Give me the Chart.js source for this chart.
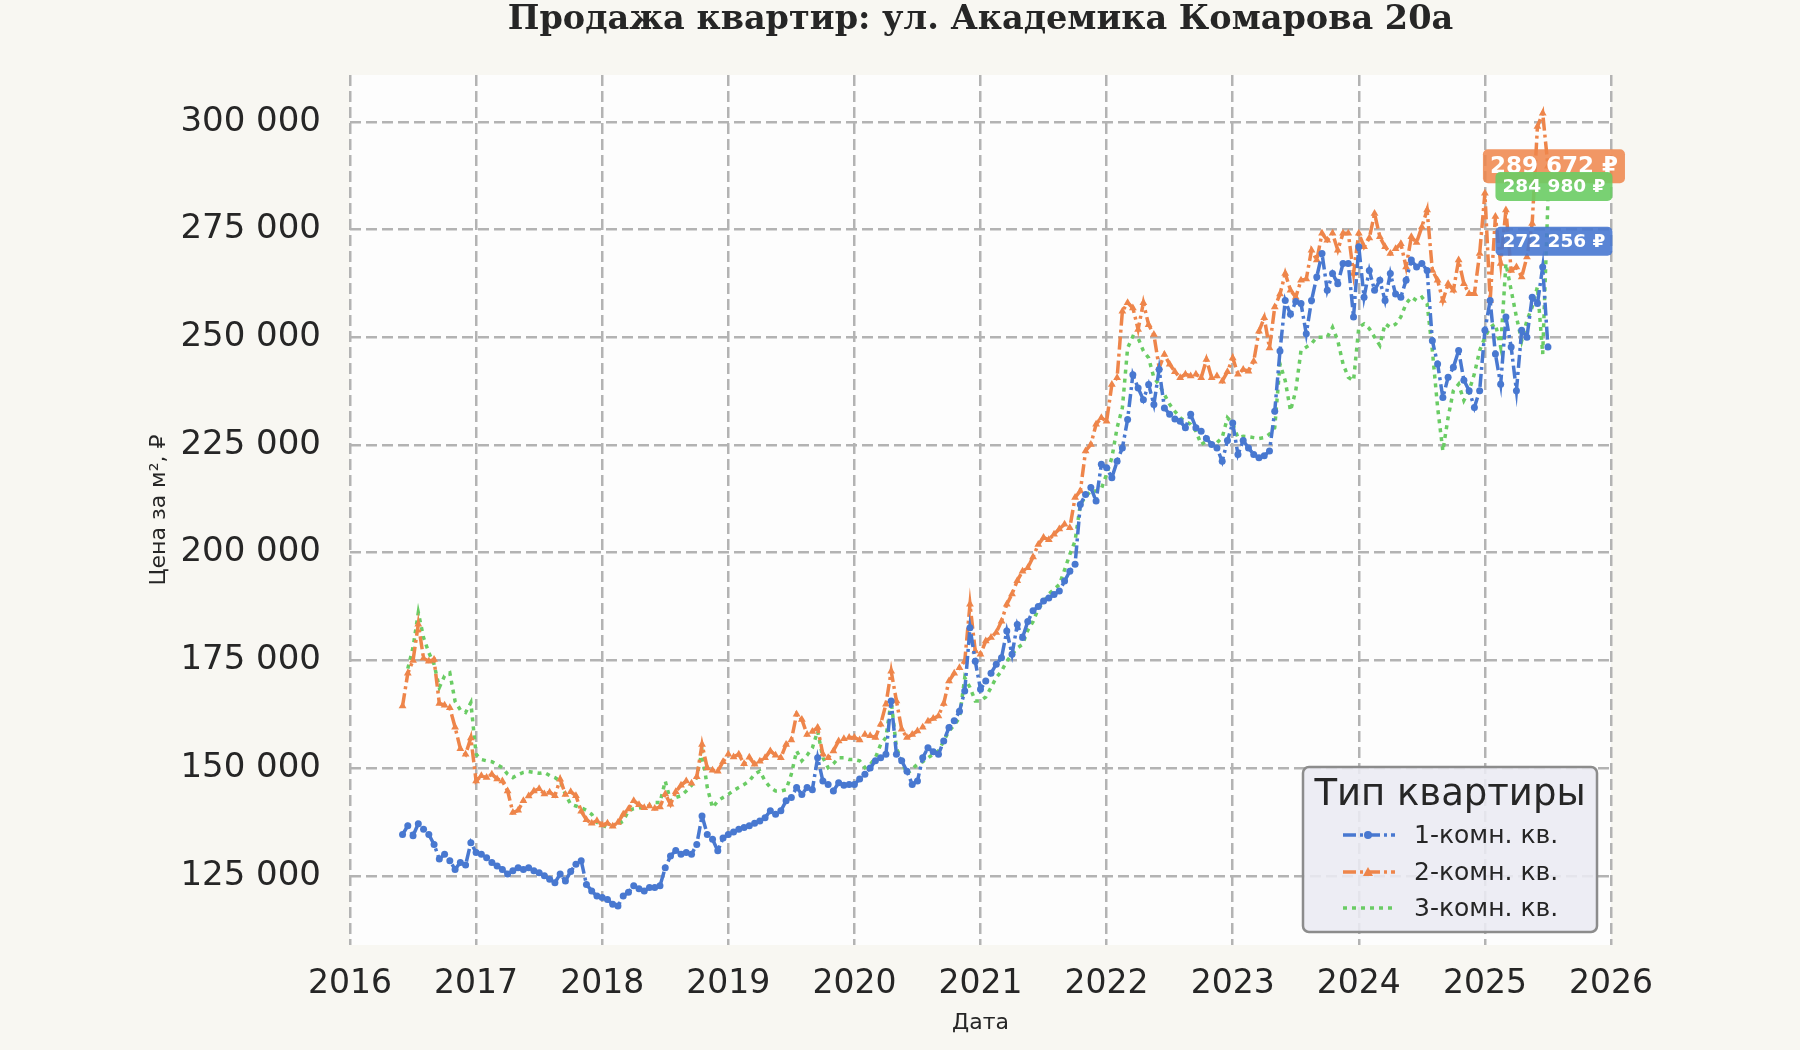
<!DOCTYPE html>
<html lang="ru">
<head>
<meta charset="utf-8">
<title>Продажа квартир: ул. Академика Комарова 20а</title>
<script src="https://cdn.jsdelivr.net/npm/chart.js@4.4.1/dist/chart.umd.min.js"></script>
<style>
  html, body { margin: 0; padding: 0; background: #f8f7f2; }
  #wrap { width: 1800px; height: 1050px; }
</style>
</head>
<body>
<div id="wrap"><canvas id="grafico" width="1800" height="1050"></canvas></div>
<script>
// ---------------- DADOS ----------------
const chartTitle = "Продажа квартир: ул. Академика Комарова 20а";
const xTitle = "Дата";
const yTitle = "Цена за м², ₽";
const legendTitle = "Тип квартиры";
const roomTypes = ["1-комн. кв.", "2-комн. кв.", "3-комн. кв."];
const yearTicks = [2016, 2017, 2018, 2019, 2020, 2021, 2022, 2023, 2024, 2025, 2026];
const priceTicks = [125000, 150000, 175000, 200000, 225000, 250000, 275000, 300000];
const lastPrices = [272256, 289672, 284980];

// half-month points (1st and 15th), from 1 June 2016, price in thousand ₽ per m²
const firstHalfMonth = 2016 * 24 + 10;

const room1 = [
  134.6, 136.6, 134.3, 137.1, 135.8, 134.6, 132.3, 128.9, 130.0, 128.5, 126.5, 128.1, 127.5, 132.7,
  130.4, 130.0, 129.2, 128.1, 127.3, 126.5, 125.4, 126.2, 126.9, 126.5, 126.9, 126.2, 125.7, 125.0, 124.2, 123.4, 125.4, 123.8, 126.0, 127.7, 128.5, 123.0, 121.5, 120.3,
  120.0, 119.5, 118.4, 118.0, 120.3, 121.2, 122.7, 122.0, 121.5, 122.3, 122.3, 122.7, 126.9, 129.6, 130.9, 130.0, 130.4, 130.0, 132.3, 138.9, 134.6, 133.5, 130.8, 133.8,
  134.6, 135.2, 135.8, 136.2, 136.6, 137.2, 137.7, 138.5, 140.1, 139.3, 140.1, 142.4, 143.2, 145.5, 143.9, 145.5, 145.0, 152.4, 147.0, 146.2, 144.7, 146.6, 146.0, 146.2,
  146.2, 147.5, 148.6, 150.0, 151.7, 152.4, 153.2, 165.6, 153.2, 151.7, 149.3, 146.2, 147.0, 152.4, 154.7, 153.8, 153.2, 156.3, 159.4, 161.0, 163.2, 167.9, 182.6, 174.8,
  168.3, 170.2, 172.0, 174.1, 175.6, 181.8, 176.4, 183.3, 180.3, 184.0, 186.5, 187.5, 188.8, 189.5, 190.3, 191.1, 193.4, 195.7, 197.3, 211.2, 213.5, 215.1, 212.0, 220.5,
  219.7, 217.4, 221.2, 224.3, 230.9, 241.3, 238.2, 235.5, 239.0, 234.4, 242.5, 233.6, 232.1, 231.0, 230.5, 229.0, 232.1, 229.0, 228.2, 226.5, 225.1, 224.3, 221.2, 226.0,
  230.1, 222.8, 226.0, 224.3, 222.8, 222.0, 222.5, 223.6, 232.8, 246.8, 258.5, 255.3, 258.3, 257.8, 250.8, 258.5, 264.0, 269.4, 260.9, 264.8, 262.4, 267.1, 267.1, 254.7,
  271.0, 259.3, 265.5, 260.9, 263.2, 258.5, 264.8, 260.0, 259.3, 263.2, 267.9, 266.3, 267.1, 265.5, 249.2, 243.8, 236.0, 240.7, 243.0, 246.9, 240.0, 237.6, 233.7, 237.6,
  251.6, 258.5, 246.1, 239.1, 254.7, 247.7, 237.6, 251.6, 250.0, 259.3, 257.8, 266.3, 247.7
];

const room2 = [
  164.4, 172.0, 175.0, 183.4, 175.5, 174.8, 175.2, 165.0, 164.6, 164.0, 159.5, 154.5, 153.2, 157.0,
  147.0, 148.2, 147.8, 148.6, 147.5, 147.0, 144.7, 139.7, 140.2, 142.4, 143.5, 144.7, 145.2, 144.0, 144.4, 143.6, 147.4, 143.9, 144.5, 143.6, 140.0, 138.0, 137.2, 137.8,
  136.8, 137.2, 136.5, 137.4, 139.3, 140.5, 142.4, 141.5, 140.8, 141.2, 140.6, 141.0, 144.0, 141.6, 144.5, 146.0, 147.0, 146.5, 148.0, 155.5, 150.0, 149.5, 149.3, 151.5,
  153.2, 152.6, 153.2, 151.0, 152.5, 150.9, 151.6, 152.4, 154.0, 153.0, 152.4, 155.5, 156.5, 162.5, 161.3, 157.8, 158.5, 159.4, 153.2, 152.4, 154.0, 156.3, 156.8, 157.1,
  157.1, 156.5, 157.8, 157.5, 157.1, 160.2, 164.8, 172.5, 165.6, 159.0, 157.1, 157.8, 158.6, 159.5, 160.9, 161.5, 162.1, 165.0, 170.2, 172.0, 173.3, 174.8, 188.0, 177.2,
  176.4, 179.5, 180.3, 181.5, 184.1, 188.0, 190.4, 193.5, 195.7, 196.5, 199.0, 201.9, 203.5, 203.0, 204.3, 205.5, 206.6, 205.8, 212.8, 214.3, 223.6, 225.1, 229.8, 231.3,
  230.5, 239.0, 240.6, 256.0, 258.0, 256.8, 251.8, 258.0, 252.9, 250.6, 242.9, 246.0, 243.7, 242.0, 240.6, 241.4, 241.0, 241.4, 240.6, 244.8, 240.6, 241.0, 239.8, 242.0,
  245.2, 241.4, 242.5, 242.1, 244.4, 251.4, 254.5, 247.5, 257.0, 260.0, 264.8, 260.9, 259.3, 263.2, 263.5, 270.2, 267.9, 274.1, 272.5, 274.1, 270.2, 274.1, 274.1, 264.8,
  274.1, 271.0, 273.0, 278.7, 273.3, 271.0, 269.4, 270.5, 271.7, 266.3, 273.3, 272.0, 275.6, 279.5, 265.5, 263.2, 258.5, 262.4, 260.9, 267.9, 262.4, 260.1, 260.1, 269.4,
  283.4, 258.5, 278.0, 267.1, 279.5, 265.5, 266.3, 264.0, 268.6, 276.4, 298.9, 302.0, 289.7
];

const room3 = [
  null, 173.1, 178.0, 186.1, 180.3, 176.8, 174.1, 168.7, 171.4, 172.1, 165.5, 163.5, 162.9, 165.2,
  153.2, 152.0, 151.7, 151.5, 150.8, 150.1, 148.6, 147.8, 148.5, 149.0, 149.2, 149.0, 148.8, 149.0, 148.3, 147.8, 147.0, 143.9, 141.6, 141.2, 140.8, 140.2, 139.3, 137.4,
  136.8, 136.2, 136.6, 137.0, 137.7, 140.1, 140.6, 140.8, 140.8, 141.3, 142.0, 142.0, 147.0, 142.4, 143.2, 143.6, 144.7, 146.0, 147.8, 154.0, 145.5, 140.8, 142.4, 143.2,
  143.9, 144.8, 145.5, 146.2, 147.0, 148.6, 149.3, 147.0, 145.5, 144.7, 144.7, 145.0, 148.6, 154.0, 151.7, 153.0, 154.7, 158.6, 152.4, 150.1, 151.0, 152.4, 152.4, 152.0,
  152.0, 151.7, 150.1, 150.8, 152.4, 155.5, 157.1, 165.6, 154.7, 151.7, 148.6, 149.8, 150.9, 151.5, 152.4, 153.2, 154.0, 156.3, 158.6, 160.0, 161.7, 171.0, 168.7, 165.6,
  165.6, 166.5, 168.7, 171.0, 172.5, 174.8, 176.4, 177.9, 178.7, 182.0, 184.0, 187.0, 188.5, 190.4, 191.5, 192.6, 196.0, 199.6, 202.7, 211.2, 213.0, 214.3, 214.3, 214.8,
  218.2, 222.0, 229.0, 233.6, 247.5, 250.2, 249.8, 246.8, 245.2, 240.6, 239.0, 236.7, 234.4, 232.8, 231.3, 230.5, 229.8, 228.2, 225.1, 225.9, 225.1, 225.5, 226.7, 231.3,
  230.0, 226.7, 227.0, 226.9, 226.7, 226.5, 226.7, 227.5, 229.0, 243.8, 239.9, 232.9, 237.6, 246.9, 247.7, 248.5, 250.0, 250.0, 250.0, 252.3, 249.2, 243.8, 240.7, 239.9,
  252.3, 253.1, 252.0, 250.0, 248.1, 253.1, 252.3, 253.0, 254.7, 257.8, 259.3, 258.5, 259.3, 257.8, 246.9, 233.7, 223.6, 231.4, 237.6, 239.1, 235.3, 237.6, 241.5, 246.9,
  250.0, 252.3, 253.1, 247.7, 267.1, 260.9, 254.7, 249.2, 253.9, 257.0, 261.7, 246.1, 281.8
];

// ---------------- ESTILO ----------------
const colors = ["#4878d0", "#ee854a", "#6acc64"];
const labelFills = ["rgba(72,120,208,0.9)", "rgba(238,133,74,0.85)", "rgba(106,204,100,0.9)"];
const dashes = [[13, 4, 3, 4], [13, 4, 3, 4], [4, 5]];
const markers = ["circle", "triangle", false];
const textColor = "#262626";
const gridColor = "#b3b3b3";
const sans = "'DejaVu Sans', sans-serif";

function formatPrice(v) {
    return String(v).replace(/\B(?=(\d{3})+(?!\d))/g, " ");
}

function toPoints(values) {
    return values.map((v, i) => ({
        x: (firstHalfMonth + i) / 24,
        y: v === null ? null : v * 1000
    }));
}

const series = [room1, room2, room3];

const datasets = series.map((values, k) => ({
    label: roomTypes[k],
    data: toPoints(values),
    borderColor: colors[k],
    backgroundColor: colors[k],
    borderWidth: 3.5,
    borderDash: dashes[k],
    borderCapStyle: "butt",
    tension: 0,
    pointStyle: markers[k] || "circle",
    pointRadius: markers[k] ? (k === 1 ? 4.5 : 3.5) : 0,
    pointBorderWidth: 0,
    pointBackgroundColor: colors[k],
    spanGaps: false
}));

// ---------------- PLUGINS ----------------
const background = {
    id: "background",
    beforeDraw(chart) {
        const { ctx, chartArea: a } = chart;
        ctx.save();
        ctx.fillStyle = "#f8f7f2";
        ctx.fillRect(0, 0, chart.width, chart.height);
        ctx.fillStyle = "#fdfdfd";
        ctx.fillRect(a.left, a.top, a.right - a.left, a.bottom - a.top);
        ctx.restore();
    }
};

function roundRect(ctx, x, y, w, h, r) {
    ctx.beginPath();
    ctx.moveTo(x + r, y);
    ctx.arcTo(x + w, y, x + w, y + h, r);
    ctx.arcTo(x + w, y + h, x, y + h, r);
    ctx.arcTo(x, y + h, x, y, r);
    ctx.arcTo(x, y, x + w, y, r);
    ctx.closePath();
}

const overlays = {
    id: "overlays",
    afterDraw(chart) {
        const { ctx, chartArea: a } = chart;
        const xs = chart.scales.x;
        const ys = chart.scales.y;
        ctx.save();

        // title
        ctx.fillStyle = textColor;
        ctx.textAlign = "center";
        ctx.textBaseline = "alphabetic";
        ctx.font = "bold 33.5px 'DejaVu Serif', serif";
        ctx.fillText(chartTitle, (a.left + a.right) / 2, 29);

        // axis titles
        ctx.font = "22px " + sans;
        ctx.fillText(xTitle, (a.left + a.right) / 2, 1029);
        ctx.save();
        ctx.translate(165, (a.top + a.bottom) / 2);
        ctx.rotate(-Math.PI / 2);
        ctx.fillText(yTitle, 0, 0);
        ctx.restore();

        // last value labels
        const lastX = (firstHalfMonth + room2.length - 1) / 24;
        const cx = xs.getPixelForValue(lastX) + 6;
        [1, 2, 0].forEach(k => {
            const big = k === 1;
            const txt = formatPrice(lastPrices[k]) + " ₽";
            ctx.font = "bold " + (big ? 23 : 18.5) + "px " + sans;
            const w = ctx.measureText(txt).width + 14;
            const h = big ? 34 : 29;
            const cy = ys.getPixelForValue(lastPrices[k]);
            ctx.fillStyle = labelFills[k];
            roundRect(ctx, cx - w / 2, cy - h / 2, w, h, 5);
            ctx.fill();
            ctx.fillStyle = "#ffffff";
            ctx.textBaseline = "middle";
            ctx.fillText(txt, cx, cy + 1);
        });

        // legend
        const lx = 1303, ly = 767, lw = 294, lh = 165;
        ctx.fillStyle = "rgba(234,234,242,0.88)";
        roundRect(ctx, lx, ly, lw, lh, 6);
        ctx.fill();
        ctx.strokeStyle = "#8c8c8c";
        ctx.lineWidth = 2.5;
        ctx.stroke();

        ctx.fillStyle = textColor;
        ctx.textAlign = "center";
        ctx.textBaseline = "alphabetic";
        ctx.font = "37px " + sans;
        ctx.fillText(legendTitle, lx + lw / 2, 805);

        const rows = [835, 872, 908];
        ctx.font = "25px " + sans;
        ctx.textAlign = "left";
        roomTypes.forEach((name, k) => {
            const y = rows[k];
            ctx.strokeStyle = colors[k];
            ctx.lineWidth = 3.5;
            ctx.setLineDash(dashes[k]);
            ctx.beginPath();
            ctx.moveTo(1343, y);
            ctx.lineTo(1395, y);
            ctx.stroke();
            ctx.setLineDash([]);
            ctx.fillStyle = colors[k];
            if (markers[k] === "circle") {
                ctx.beginPath();
                ctx.arc(1368, y, 4, 0, Math.PI * 2);
                ctx.fill();
            } else if (markers[k] === "triangle") {
                ctx.beginPath();
                ctx.moveTo(1368, y - 5);
                ctx.lineTo(1373, y + 4);
                ctx.lineTo(1363, y + 4);
                ctx.closePath();
                ctx.fill();
            }
            ctx.fillStyle = textColor;
            ctx.textBaseline = "middle";
            ctx.fillText(name, 1414, y + 1);
        });

        ctx.restore();
    }
};

// ---------------- GRÁFICO ----------------
new Chart(document.getElementById("grafico"), {
    type: "line",
    data: { datasets },
    options: {
        responsive: false,
        animation: false,
        devicePixelRatio: 1,
        layout: { padding: { top: 75, right: 189, bottom: 0, left: 0 } },
        plugins: {
            legend: { display: false },
            tooltip: { enabled: false },
            title: { display: false }
        },
        scales: {
            x: {
                type: "linear",
                min: 2016,
                max: 2026,
                afterBuildTicks: s => { s.ticks = yearTicks.map(v => ({ value: v })); },
                afterFit: s => { s.height = 105; },
                ticks: {
                    font: { family: sans, size: 33 },
                    color: textColor,
                    padding: 20,
                    maxRotation: 0,
                    autoSkip: false,
                    callback: v => String(v)
                },
                grid: { color: gridColor, lineWidth: 2.5, drawTicks: false },
                border: { display: false, dash: [11, 5] }
            },
            y: {
                type: "linear",
                min: 108950,
                max: 310850,
                afterBuildTicks: s => { s.ticks = priceTicks.map(v => ({ value: v })); },
                afterFit: s => { s.width = 350; },
                ticks: {
                    font: { family: sans, size: 34 },
                    color: textColor,
                    padding: 29,
                    callback: v => formatPrice(v)
                },
                grid: { color: gridColor, lineWidth: 2.5, drawTicks: false },
                border: { display: false, dash: [11, 5] }
            }
        }
    },
    plugins: [background, overlays]
});
</script>
</body>
</html>
